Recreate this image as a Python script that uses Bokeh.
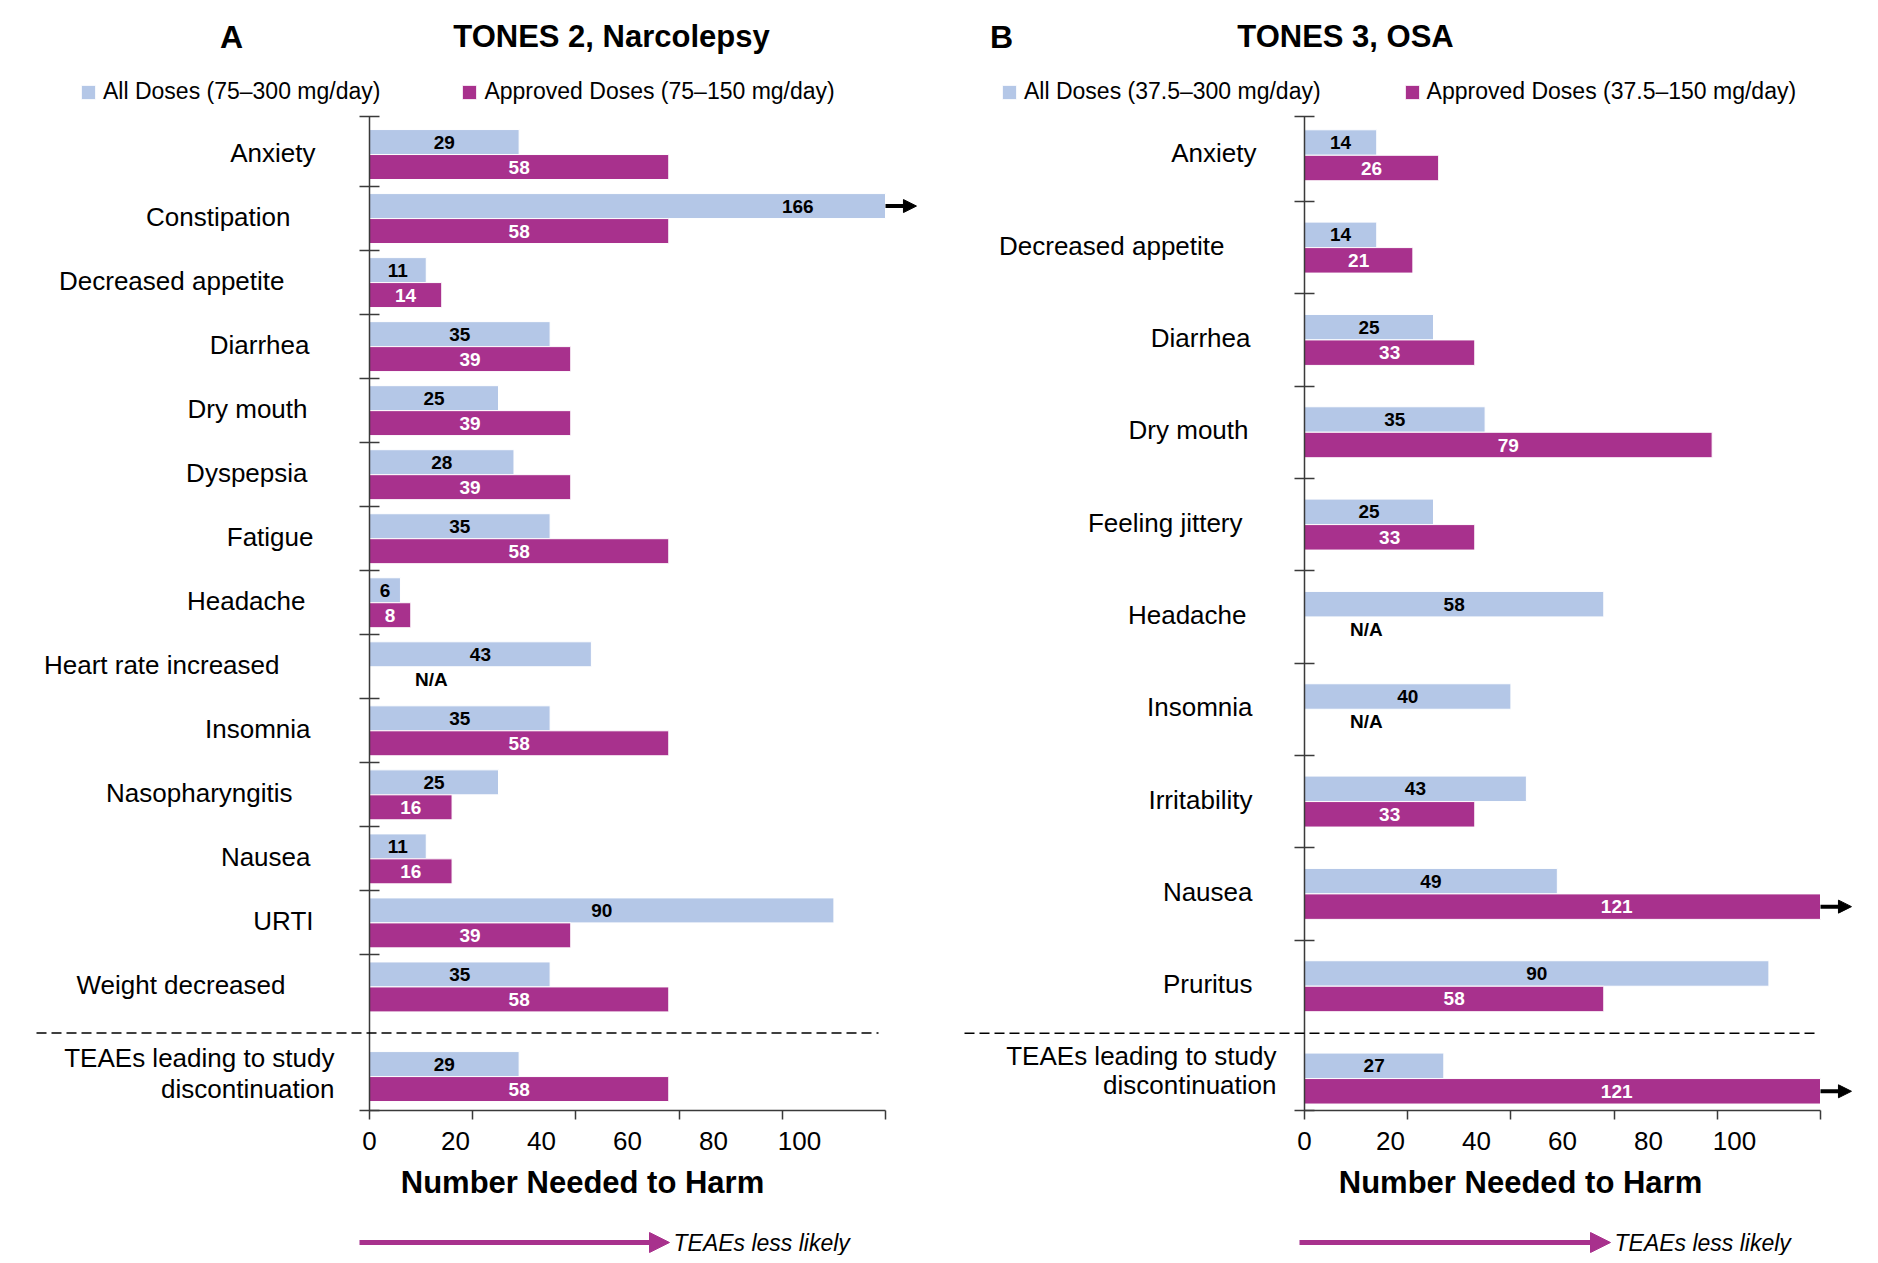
from bokeh.plotting import figure
from bokeh.models import (Range1d, LinearAxis, FixedTicker, Label, Arrow, NormalHead,
                          Legend, LegendItem, ColumnDataSource)
from bokeh.core.properties import value
from bokeh.layouts import row
from bokeh.embed import file_html
from bokeh.resources import INLINE

# ---------------- data ----------------
A_categories = ["Anxiety", "Constipation", "Decreased appetite", "Diarrhea", "Dry mouth",
                "Dyspepsia", "Fatigue", "Headache", "Heart rate increased", "Insomnia",
                "Nasopharyngitis", "Nausea", "URTI", "Weight decreased",
                "TEAEs leading to study\ndiscontinuation"]
A_all = [29, 166, 11, 35, 25, 28, 35, 6, 43, 35, 25, 11, 90, 35, 29]
A_approved = [58, 58, 14, 39, 39, 39, 58, 8, None, 58, 16, 16, 39, 58, 58]

B_categories = ["Anxiety", "Decreased appetite", "Diarrhea", "Dry mouth", "Feeling jittery",
                "Headache", "Insomnia", "Irritability", "Nausea", "Pruritus",
                "TEAEs leading to study\ndiscontinuation"]
B_all = [14, 14, 25, 35, 25, 58, 40, 43, 49, 90, 27]
B_approved = [26, 21, 33, 79, 33, None, None, 33, 121, 58, 121]

x_tick_labels = [0, 20, 40, 60, 80, 100]

A_legend = ["All Doses (75\u2013300 mg/day)", "Approved Doses (75\u2013150 mg/day)"]
B_legend = ["All Doses (37.5\u2013300 mg/day)", "Approved Doses (37.5\u2013150 mg/day)"]

# ---------------- style / layout ----------------
LIGHT = "#B4C7E7"
MAG = "#A8318D"
AX = "#3A3A3A"
FONT = "Liberation Sans"
FRAME_W = 516          # pixel length of the 0..100 bar scale
FIG_H = 1255
AXIS_TOP = 116         # page y of the top of the value axis
CAP = 100              # bars longer than this are cut and marked with an arrow


def build(cats, v_all, v_app, legend_labels, panel_letter, title, cfg):
    fig_left, width, axis0 = cfg["fig_left"], cfg["width"], cfg["axis0"]
    y_top, y_bot = cfg["y_top"], cfg["y_bottom"]
    ppu_x = FRAME_W / 100.0
    ppu_y = 994.0 / (y_bot - y_top)

    def X(px):
        return (px - axis0) / ppu_x

    def Y(py):
        return y_top + (py - AXIS_TOP) / ppu_y

    p = figure(width=width, height=FIG_H,
               x_range=Range1d(X(fig_left), X(fig_left + width)),
               y_range=Range1d(Y(FIG_H), Y(0)),
               output_backend="svg", toolbar_location=None,
               x_axis_type=None, y_axis_type=None, min_border=0,
               outline_line_color=None, background_fill_color="white",
               border_fill_color="white")
    p.xgrid.visible = False
    p.ygrid.visible = False

    ypos = cfg["ypos"]
    h = cfg["bar_h"]

    # axes (drawn at fixed locations inside the frame)
    p.extra_x_ranges = {"lab": Range1d(1.2 * X(fig_left), 1.2 * X(fig_left + width))}
    xaxis = LinearAxis(x_range_name="lab", fixed_location=y_bot, bounds=(0, 120),
                       ticker=FixedTicker(ticks=x_tick_labels,
                                          minor_ticks=[t * 1.2 for t in x_tick_labels]),
                       major_tick_line_color=None, major_tick_in=0, major_tick_out=0,
                       minor_tick_in=0, minor_tick_out=9, minor_tick_line_color=AX,
                       minor_tick_line_width=1.5, axis_line_color=AX, axis_line_width=1.5,
                       major_label_standoff=12, major_label_text_font=FONT,
                       major_label_text_font_size="26px", major_label_text_color="black")
    p.add_layout(xaxis, "below")
    yaxis = LinearAxis(fixed_location=0, bounds=(y_top, y_bot),
                       ticker=FixedTicker(ticks=[], minor_ticks=cfg["y_ticks"]),
                       major_tick_line_color=None, major_label_text_font_size="0px",
                       minor_tick_in=10, minor_tick_out=10, minor_tick_line_color=AX,
                       minor_tick_line_width=1.5, axis_line_color=AX, axis_line_width=1.5)
    p.add_layout(yaxis, "left")

    # bars
    src_all = ColumnDataSource(dict(
        y=[yp - h / 2 for yp in ypos],
        right=[min(v, CAP) for v in v_all],
        lx=[v / 2 for v in v_all],
        text=[str(v) for v in v_all]))
    idx = [i for i, v in enumerate(v_app) if v is not None]
    src_app = ColumnDataSource(dict(
        y=[ypos[i] + h / 2 for i in idx],
        right=[min(v_app[i], CAP) for i in idx],
        lx=[v_app[i] / 2 for i in idx],
        text=[str(v_app[i]) for i in idx]))
    r_all = p.hbar(y="y", left=0, right="right", height=h, source=src_all,
                   fill_color=LIGHT, line_color="white", line_width=1)
    r_app = p.hbar(y="y", left=0, right="right", height=h, source=src_app,
                   fill_color=MAG, line_color="white", line_width=1)
    p.text(x="lx", y="y", text="text", source=src_all, text_align="center",
           text_baseline="middle", text_font=value(FONT), text_font_style="bold",
           text_font_size="19px", text_color="black")
    p.text(x="lx", y="y", text="text", source=src_app, text_align="center",
           text_baseline="middle", text_font=value(FONT), text_font_style="bold",
           text_font_size="19px", text_color="white")
    na = [i for i, v in enumerate(v_app) if v is None]
    if na:
        p.text(x=[12] * len(na), y=[ypos[i] + h / 2 for i in na], text=["N/A"] * len(na),
               text_align="center", text_baseline="middle", text_font=value(FONT),
               text_font_style="bold", text_font_size="19px", text_color="black")

    # arrows for cut bars
    cut = [(yp - h / 2) for yp, v in zip(ypos, v_all) if v > CAP]
    cut += [ypos[i] + h / 2 for i in idx if v_app[i] > CAP]
    for yy in cut:
        p.add_layout(Arrow(end=NormalHead(size=13, fill_color="black", line_color="black"),
                           x_start=CAP, y_start=yy, x_end=CAP + 6, y_end=yy,
                           line_width=4, line_color="black"))

    # category labels
    for name, yp, gap in zip(cats, ypos, cfg["label_gap"]):
        lines = name.split("\n")
        offs = cfg["multi_off"] if len(lines) > 1 else [-2]
        for ln, off in zip(lines, offs):
            p.add_layout(Label(x=-gap / ppu_x, y=yp + off / ppu_y, text=ln, text_align="right",
                               text_baseline="middle", text_font=FONT,
                               text_font_size="26px", text_color="black"))

    # separator
    p.add_layout(Arrow(start=None, end=None, x_start=X(cfg["sep_x"][0]), x_end=X(cfg["sep_x"][1]),
                       y_start=cfg["sep_y"], y_end=cfg["sep_y"], line_dash="10 5",
                       line_width=1.5, line_color="black"))

    # titles
    p.add_layout(Label(x=X(cfg["letter_x"]), y=Y(36), text=panel_letter, text_align="center",
                       text_baseline="middle", text_font=FONT, text_font_style="bold",
                       text_font_size="32px", text_color="black"))
    p.add_layout(Label(x=X(cfg["title_x"]), y=Y(36), text=title, text_align="center",
                       text_baseline="middle", text_font=FONT, text_font_style="bold",
                       text_font_size="31px", text_color="black"))

    # axis title
    p.add_layout(Label(x=X(cfg["xlab_x"]), y=Y(1182), text="Number Needed to Harm",
                       text_align="center", text_baseline="middle", text_font=FONT,
                       text_font_style="bold", text_font_size="31px", text_color="black"))

    # direction arrow
    p.add_layout(Arrow(end=NormalHead(size=20, fill_color=MAG, line_color=MAG),
                       x_start=X(cfg["dir_x"][0]), x_end=X(cfg["dir_x"][1]),
                       y_start=Y(1242), y_end=Y(1242), line_width=5, line_color=MAG))
    p.add_layout(Label(x=X(cfg["dir_x"][1] + 4), y=Y(1242), text="TEAEs less likely",
                       text_align="left", text_baseline="middle", text_font=FONT,
                       text_font_style="italic", text_font_size="23px", text_color="black"))

    # legend
    legend = Legend(items=[LegendItem(label=legend_labels[0], renderers=[r_all]),
                           LegendItem(label=legend_labels[1], renderers=[r_app])],
                    orientation="horizontal",
                    location=(cfg["legend_x"] - fig_left, FIG_H - 105),
                    glyph_width=18, glyph_height=18, label_standoff=6,
                    spacing=cfg["legend_spacing"], padding=0, margin=0,
                    border_line_color=None, background_fill_alpha=0,
                    label_text_font=FONT, label_text_font_size="23px",
                    label_text_color="black")
    p.add_layout(legend)
    return p


A_cfg = dict(fig_left=0, width=945, axis0=369,
             ypos=list(range(14)) + [14.4], bar_h=0.39, y_top=-0.594, y_bottom=14.93,
             y_ticks=[-0.594] + [i + 0.5 for i in range(13)] + [14.93],
             label_gap=[54, 79, 85, 60, 62, 62, 56, 64, 90, 59, 77, 59, 56, 84, 35],
             multi_off=[-19, 12], sep_x=(36, 878), sep_y=13.72,
             letter_x=231, title_x=611, xlab_x=582, dir_x=(359, 669),
             legend_x=79, legend_spacing=80)
B_cfg = dict(fig_left=945, width=920, axis0=1304,
             ypos=list(range(11)), bar_h=0.276, y_top=-0.42, y_bottom=10.346,
             y_ticks=[-0.42] + [i + 0.5 for i in range(9)] + [10.346],
             label_gap=[48, 80, 54, 56, 62, 58, 52, 52, 52, 52, 28],
             multi_off=[-23, 6], sep_x=(964, 1815), sep_y=9.51,
             letter_x=1001, title_x=1345, xlab_x=1520, dir_x=(1299, 1610),
             legend_x=1000, legend_spacing=82)

pA = build(A_categories, A_all, A_approved, A_legend, "A", "TONES 2, Narcolepsy", A_cfg)
pB = build(B_categories, B_all, B_approved, B_legend, "B", "TONES 3, OSA", B_cfg)

layout = row(pA, pB)
open("out.html", "w").write(file_html(layout, INLINE))
